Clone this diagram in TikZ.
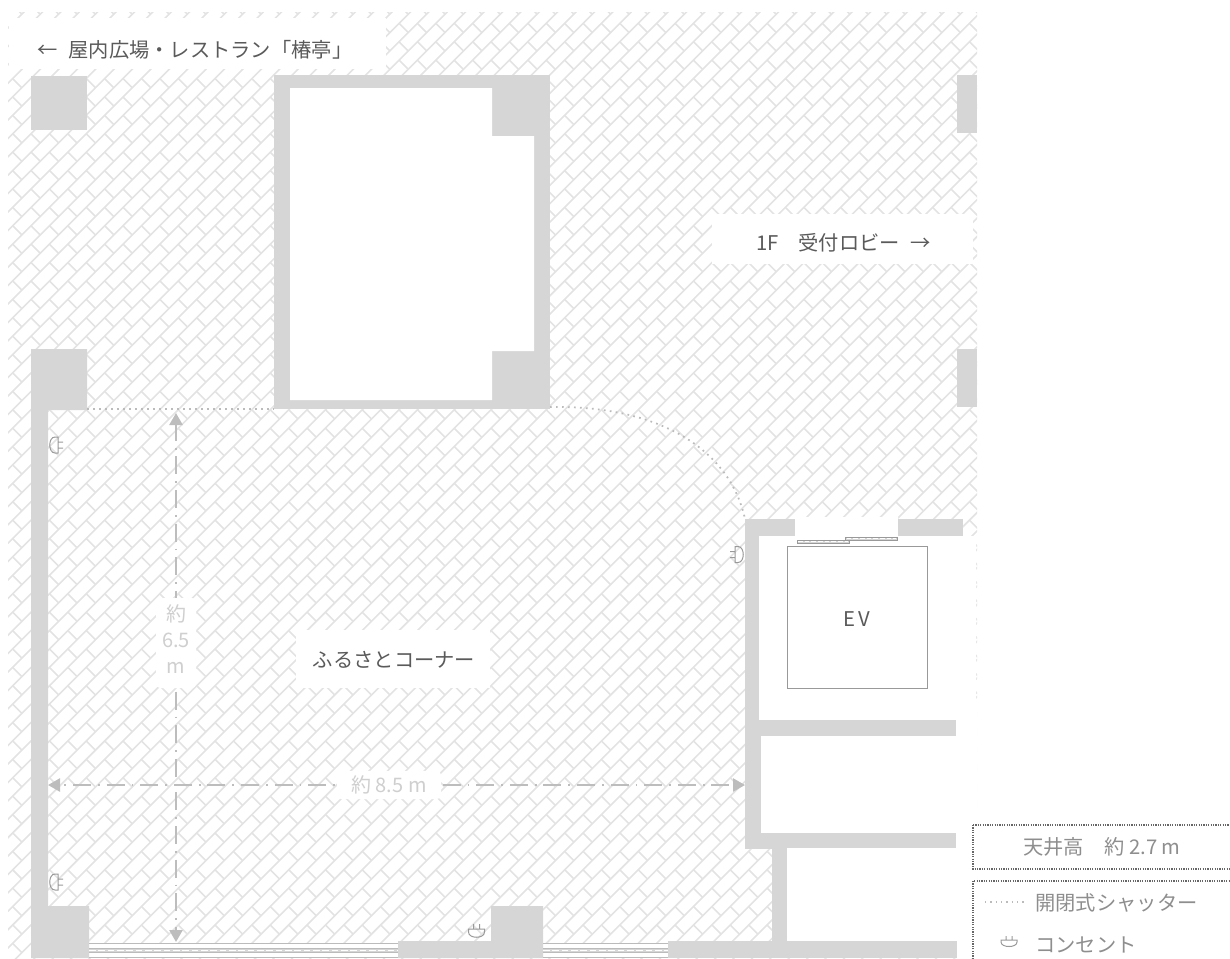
\documentclass[tikz,border=0pt]{standalone}
\usepackage{fontspec}
\setmainfont{Noto Sans CJK JP}
\usetikzlibrary{arrows.meta}
\definecolor{wallc}{HTML}{D6D6D6}
\definecolor{hatchc}{HTML}{E3E3E3}
\definecolor{dimc}{HTML}{BDBDBD}
\definecolor{dimtxt}{HTML}{CFCFCF}
\definecolor{shutc}{HTML}{BBBBBB}
\definecolor{txtc}{HTML}{5A5A5A}
\definecolor{legtxt}{HTML}{8E8E8E}
\definecolor{linec}{HTML}{999999}
\tikzset{
  wall/.style={fill=wallc,draw=none},
  blank/.style={fill=white,draw=none},
  hatchline/.style={draw=hatchc,line width=1.2pt},
  label/.style={font=\fontsize{15.2pt}{18pt}\selectfont,text=txtc,inner sep=0pt},
  leglabel/.style={font=\fontsize{15.2pt}{18pt}\selectfont,text=legtxt,inner sep=0pt},
  dimlabel/.style={font=\fontsize{15pt}{19.5pt}\selectfont,text=dimtxt,inner sep=0pt,align=center},
  shutter/.style={draw=shutc,line width=1.3pt,dash pattern=on 1.3pt off 3.2pt},
  dimline/.style={draw=dimc,line width=1.7pt,dash pattern=on 13.5pt off 5.2pt on 1.3pt off 5.2pt,
    {Triangle[length=9pt,width=9.8pt,fill=dimc]}-{Triangle[length=9pt,width=9.8pt,fill=dimc]}},
  legbox/.style={draw=black!60,line width=0.9pt,dash pattern=on 0.9pt off 0.9pt},
  rail/.style={draw=shutc,line width=0.9pt},
  raildash/.style={draw=white,line width=1.1pt,dash pattern=on 5pt off 2pt},
  outlet/.pic={
    \draw[draw=linec,line width=0.75pt] (0,-8) -- (-3,-8) .. controls (-10,-8) and (-10,8) .. (-3,8) -- (0,8) -- cycle
      (0,-3) -- (5,-3) (0,3) -- (5,3);
  },
  smalloutlet/.pic={
    \draw[draw=linec,line width=0.75pt] (0,-8) -- (-2,-8) .. controls (-8,-8) and (-8,8) .. (-2,8) -- (0,8) -- cycle
      (0,-3) -- (4,-3) (0,3) -- (4,3);
  }
}
\begin{document}
\begin{tikzpicture}[x=0.75pt,y=-0.75pt]
\useasboundingbox (0,0) rectangle (1230,958);
% brick floor
\begin{scope}
  \clip (8,12) rectangle (977,958);
  \draw[hatchline] foreach \k in {0,...,106}{ ({17.6+\k*18.4},0) -- (0,{17.6+\k*18.4}) };
  \draw[hatchline] foreach \i in {-1,...,53}{ foreach \j in {-1,...,52}{
     ({12.65+\i*18.4},{4.95+\j*18.4}) -- ++(9.2,9.2) } };
\end{scope}
% cleared areas
\fill[blank] (9,18) rectangle (386,69);
\fill[blank] (712,214) rectangle (973,264);
\fill[blank] (296,630) rectangle (490,688);
\fill[blank] (745,519) -- (795,519) -- (795,517) -- (898,517) -- (898,519) -- (963,519) -- (963,536) -- (976,536) -- (976,705) -- (977.5,705) -- (977.5,849) -- (977.5,958) -- (772,958) -- (772,849) -- (745,849) -- cycle;
\fill[blank] (89,943) rectangle (398,958);
\fill[blank] (543,943) rectangle (668,958);
% walls
\fill[wall] (31,76) rectangle (87,130);
\fill[wall] (957,75) rectangle (977,133);
\fill[wall] (957,349) rectangle (977,407);
\fill[wall] (274,75) rectangle (550,409);
\fill[blank] (290,88) -- (492,88) -- (492,136) -- (534,136) -- (534,351) -- (492,351) -- (492,400) -- (290,400) -- cycle;
\fill[wall] (31,349) -- (87,349) -- (87,410) -- (48,410) -- (48,906) -- (89,906) -- (89,958) -- (31,958) -- cycle;
\fill[wall] (398,941) -- (491,941) -- (491,906) -- (543,906) -- (543,958) -- (398,958) -- cycle;
\fill[wall] (668,941) rectangle (957,958);
\fill[wall] (772,848) rectangle (787,941);
\fill[wall] (745,519) rectangle (795,536);
\fill[wall] (898,519) rectangle (963,536);
\fill[wall] (745,519) rectangle (759,720);
\fill[wall] (745,720) rectangle (956,736);
\fill[wall] (745,736) rectangle (761,833);
\fill[wall] (745,833) rectangle (956,848);
\fill[wall] (745,848) rectangle (787,849);
% shutter rails
\foreach \a/\b in {89/398,543/668}{
  \draw[rail] (\a,943.5) -- (\b,943.5);
  \draw[rail] (\a,957.3) -- (\b,957.3);
  \fill[wallc] (\a,948.5) rectangle (\b,952.7);
  \draw[draw=shutc,line width=0.5pt] (\a,948.5) -- (\b,948.5) (\a,952.7) -- (\b,952.7);
  \draw[raildash] (\a,950.6) -- (\b,950.6);
}
% shutter lines
\coordinate (s1a) at (87,409);
\coordinate (s1b) at (274,409);
\coordinate (s2a) at (550,407);
\coordinate (s2b) at (745,519);
\draw[shutter] (s1a) -- (s1b);
\draw[shutter] (s2a) .. controls (660,405) and (730,450) .. (s2b);
% elevator
\node[draw=linec,line width=0.8pt,minimum width=105pt,minimum height=106.5pt,inner sep=0pt,anchor=north west] (ev) at (787,546) {};
\node[label] (evlabel) at (857,619) {E\hspace{2.5pt}V};
\draw[draw=linec,line width=0.7pt,fill=wallc] (797,540) rectangle (849,543.5);
\draw[raildash,line width=0.8pt,dash pattern=on 3.5pt off 1.5pt] (798,541.7) -- (848,541.7);
\draw[draw=linec,line width=0.7pt,fill=wallc] (845.5,537.2) rectangle (897,540.5);
\draw[raildash,line width=0.8pt,dash pattern=on 3.5pt off 1.5pt] (846.5,538.9) -- (896,538.9);
% outlets
\pic at (58,445) {outlet};
\pic at (58,882) {outlet};
\pic[rotate=180] at (735,554.5) {outlet};
\pic[rotate=90] at (476.5,929) {outlet};
% dimensions
\coordinate (vt) at (176,413);
\coordinate (vb) at (176,942);
\coordinate (hl) at (48,785);
\coordinate (hr) at (745,785);
\draw[dimline,dash phase=1.2pt] (vt) -- (vb);
\draw[dimline,dash phase=15pt] (hl) -- (hr);
\fill[blank,rounded corners=3pt] (156,598) rectangle (196,688);
\fill[blank,rounded corners=3pt] (337,771) rectangle (441,799);
\node[dimlabel] (vlabel) at (176,639) {約\\6.5\\m};
\node[dimlabel] (hlabel) at (389,785) {約 8.5 m};
% labels
\node[label] (west) at (195,50) {←\hspace{8pt}屋内広場・レストラン「椿亭」};
\node[label] (east) at (843.5,243) {1F　受付ロビー\hspace{8pt}→};
\node[label] (corner) at (394,660) {ふるさとコーナー};
% legend
\draw[legbox] (973,825) -- (1231,825) (973,825) -- (973,869) -- (1231,869);
\node[leglabel] (ceil) at (1102,847) {天井高　約 2.7 m};
\draw[legbox] (973,959) -- (973,881) -- (1231,881);
\coordinate (la) at (985,902);
\coordinate (lb) at (1025,902);
\draw[draw=shutc,line width=1.1pt,dash pattern=on 1.1pt off 2.9pt] (la) -- (lb);
\node[leglabel] (lshut) at (1116.5,903) {開閉式シャッター};
\pic[rotate=90] at (1009,940) {smalloutlet};
\node[leglabel] (lout) at (1086,944.5) {コンセント};
\end{tikzpicture}
\end{document}
